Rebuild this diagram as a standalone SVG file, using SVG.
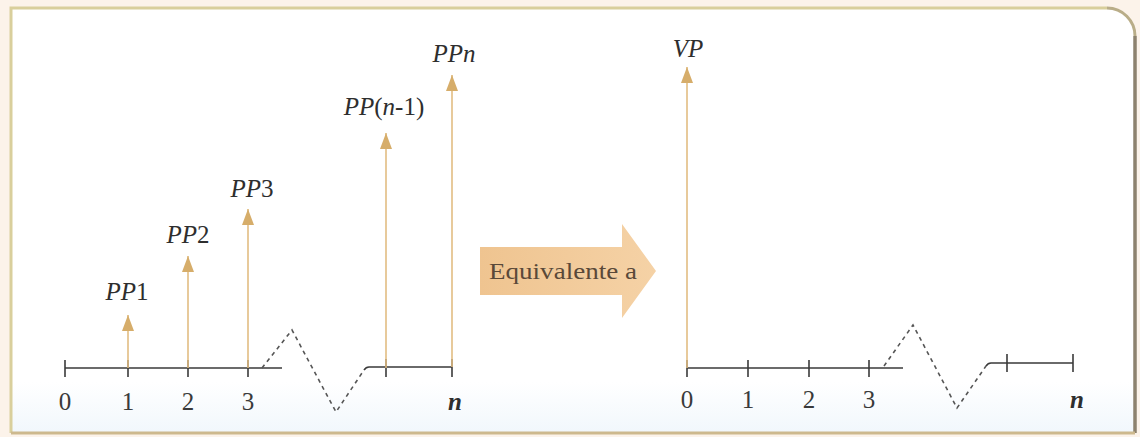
<svg xmlns="http://www.w3.org/2000/svg" width="1140" height="437" viewBox="0 0 1140 437">
  <defs>
    <linearGradient id="panelBg" x1="0" y1="0" x2="0" y2="1">
      <stop offset="0" stop-color="#ffffff"/>
      <stop offset="0.88" stop-color="#ffffff"/>
      <stop offset="1" stop-color="#f1f7fc"/>
    </linearGradient>
    <linearGradient id="bigArrow" x1="0" y1="0" x2="1" y2="0">
      <stop offset="0" stop-color="#efc490"/>
      <stop offset="1" stop-color="#f5d2a6"/>
    </linearGradient>
    <marker id="head" markerUnits="userSpaceOnUse" markerWidth="16" markerHeight="12" viewBox="0 0 16 12" refX="16" refY="6" orient="auto">
      <path d="M0,0 L16,6 L0,12 Z" fill="#d6ad6a"/>
    </marker>
    <style>
      .axis { stroke: #3a3a3a; stroke-width: 1.6; fill: none; }
      .tick { stroke: #3a3a3a; stroke-width: 1.6; }
      .dash { stroke: #555; stroke-width: 1.6; stroke-dasharray: 4 4; fill: none; }
      .flow { stroke: #e2bd82; stroke-width: 1.6; fill: none; }
      .num { font-family: "Liberation Serif", serif; font-size: 25px; fill: #3a3a3a; text-anchor: middle; }
      .lbl { font-family: "Liberation Serif", serif; font-size: 25px; fill: #2e2e2e; text-anchor: middle; font-style: italic; }
      .up { font-style: normal; }
      .nn { font-family: "Liberation Serif", serif; font-size: 25px; fill: #2e2e2e; text-anchor: middle; font-style: italic; font-weight: bold; }
      .eq { font-family: "Liberation Serif", serif; font-size: 24px; fill: #5a4939; }
    </style>
  </defs>

  <!-- page background and frame -->
  <rect x="0" y="0" width="1140" height="437" fill="#fcf3ea"/>
  <path d="M11,8 H1107 A28,28 0 0 1 1135,36 V433 H11 Z" fill="url(#panelBg)"/>
  <path d="M11,433 V8 H1107" fill="none" stroke="#d9cf9c" stroke-width="3"/>
  <path d="M1107,8 A28,28 0 0 1 1135,36" fill="none" stroke="#b9ad88" stroke-width="3"/>
  <path d="M1135,36 V433" fill="none" stroke="#8d826e" stroke-width="3.5"/>
  <path d="M11,433 H1135" fill="none" stroke="#cdb98e" stroke-width="3"/>

  <!-- left timeline -->
  <g id="timeline-left">
    <line class="axis" x1="65" y1="368" x2="282" y2="368"/>
    <line class="tick" x1="65" y1="360" x2="65" y2="377"/>
    <line class="tick" x1="128" y1="360" x2="128" y2="377"/>
    <line class="tick" x1="188" y1="360" x2="188" y2="377"/>
    <line class="tick" x1="248" y1="360" x2="248" y2="377"/>
    <path class="dash" d="M262,368 L292,330 L336,412 L364,370"/>
    <path class="axis" d="M364,370 Q366,367 369,367 H452"/>
    <line class="tick" x1="386" y1="359" x2="386" y2="377"/>
    <line class="tick" x1="452" y1="359" x2="452" y2="377"/>
    <text class="num" x="65" y="410">0</text>
    <text class="num" x="128" y="410">1</text>
    <text class="num" x="188" y="410">2</text>
    <text class="num" x="248" y="410">3</text>
    <text class="nn" x="455" y="410">n</text>
  </g>

  <!-- right timeline -->
  <g id="timeline-right">
    <line class="axis" x1="687" y1="368" x2="903" y2="368"/>
    <line class="tick" x1="687" y1="360" x2="687" y2="377"/>
    <line class="tick" x1="748" y1="360" x2="748" y2="377"/>
    <line class="tick" x1="809" y1="360" x2="809" y2="377"/>
    <line class="tick" x1="869" y1="360" x2="869" y2="377"/>
    <path class="dash" d="M884,366 L913,325 L957,408 L986,366"/>
    <path class="axis" d="M986,366 Q988,363 991,363 H1073"/>
    <line class="tick" x1="1007" y1="354" x2="1007" y2="372"/>
    <line class="tick" x1="1073" y1="354" x2="1073" y2="372"/>
    <text class="num" x="687" y="408">0</text>
    <text class="num" x="748" y="408">1</text>
    <text class="num" x="809" y="408">2</text>
    <text class="num" x="869" y="408">3</text>
    <text class="nn" x="1077" y="408">n</text>
  </g>

  <!-- cash-flow arrows -->
  <g id="connectors">
    <line class="flow" x1="128" y1="368" x2="128" y2="315" marker-end="url(#head)"/>
    <line class="flow" x1="188" y1="368" x2="188" y2="256" marker-end="url(#head)"/>
    <line class="flow" x1="248" y1="368" x2="248" y2="209" marker-end="url(#head)"/>
    <line class="flow" x1="386" y1="368" x2="386" y2="133" marker-end="url(#head)"/>
    <line class="flow" x1="452" y1="367" x2="452" y2="75" marker-end="url(#head)"/>
    <line class="flow" x1="687" y1="368" x2="687" y2="67" marker-end="url(#head)"/>
  </g>

  <!-- labels -->
  <g id="label-pp1"><text class="lbl" x="127" y="300">PP<tspan class="up">1</tspan></text></g>
  <g id="label-pp2"><text class="lbl" x="188" y="243">PP<tspan class="up">2</tspan></text></g>
  <g id="label-pp3"><text class="lbl" x="252" y="197">PP<tspan class="up">3</tspan></text></g>
  <g id="label-ppn1"><text class="lbl" x="384" y="115">PP<tspan class="up">(</tspan>n<tspan class="up">-1)</tspan></text></g>
  <g id="label-ppn"><text class="lbl" x="454" y="62">PPn</text></g>
  <g id="label-vp"><text class="lbl" x="688" y="57">VP</text></g>

  <!-- equivalence arrow -->
  <g id="equivalente">
    <polygon points="480,247 622,247 622,224 656,271 622,318 622,295 480,295" fill="url(#bigArrow)"/>
    <text class="eq" x="489" y="279" textLength="148" lengthAdjust="spacingAndGlyphs">Equivalente a</text>
  </g>
</svg>
